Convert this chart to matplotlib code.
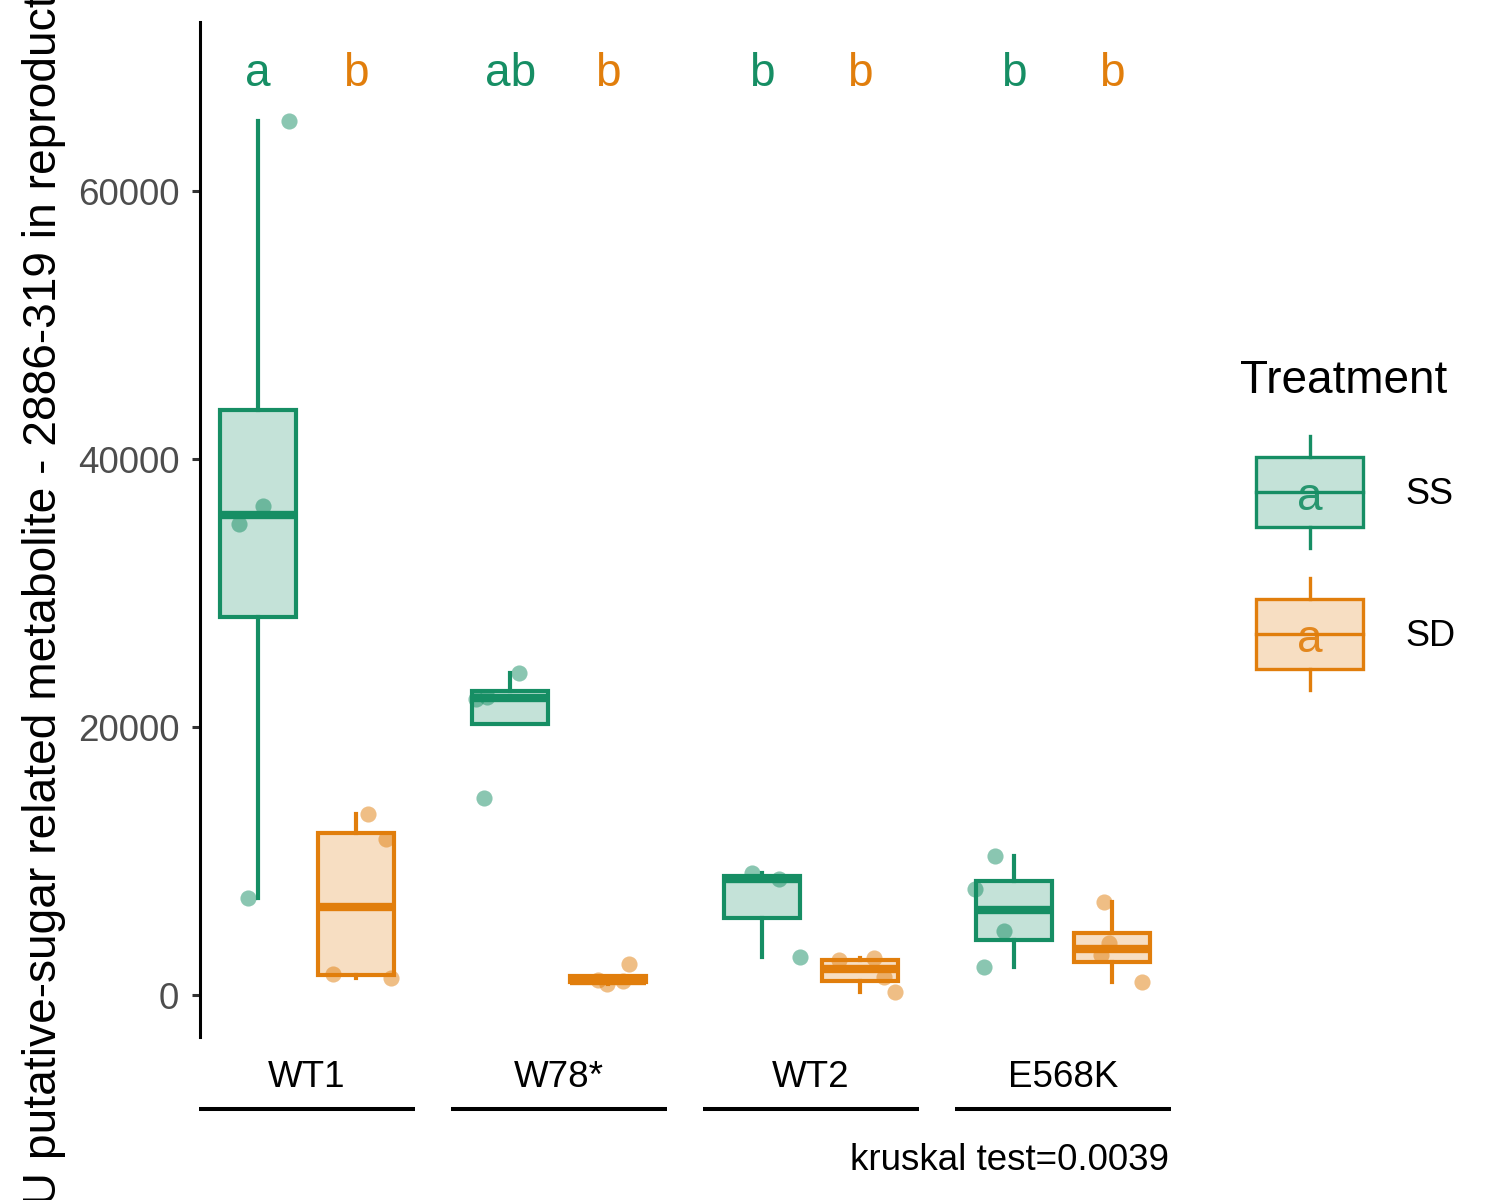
import numpy as np
import matplotlib.pyplot as plt
from matplotlib.colors import to_rgb
from matplotlib.transforms import blended_transform_factory
from matplotlib.patches import Rectangle

plt.rcParams['font.family'] = ['Liberation Sans', 'DejaVu Sans']

# ---- data ----
genotypes = ["WT1", "W78*", "WT2", "E568K"]
treatments = ["SS", "SD"]
colors = {"SS": "#168E64", "SD": "#E17E0C"}

ss_values = [
    [65220, 36490, 35150, 7240],
    [24030, 22240, 22090, 14700],
    [9104, 8657, 2836],
    [10373, 7910, 4776, 2090],
]
sd_values = [
    [13507, 11642, 1567, 1269],
    [2313, 1119, 1045, 821],
    [2761, 2612, 1343, 224],
    [6940, 3880, 2985, 970],
]
# horizontal jitter of each point (fraction of group spacing)
ss_jitter = [
    [0.123, 0.020, -0.075, -0.040],
    [0.036, -0.091, -0.135, -0.103],
    [-0.040, 0.067, 0.151],
    [-0.075, -0.155, -0.040, -0.119],
]
sd_jitter = [
    [0.048, 0.119, -0.091, 0.139],
    [0.083, -0.040, 0.060, -0.004],
    [0.056, -0.083, 0.095, 0.139],
    [-0.032, -0.012, -0.044, 0.119],
]
ss_letters = ["a", "ab", "b", "b"]
sd_letters = ["b", "b", "b", "b"]
letter_y = 67840
y_ticks = [0, 20000, 40000, 60000]
caption = "kruskal test=0.0039"
ylabel = "AU putative-sugar related metabolite - 2886-319 in reproductive tissues"

# ---- layout ----
W, H = 1500, 1200
fig = plt.figure(figsize=(W / 100, H / 100), dpi=100)
ax = fig.add_axes([200 / W, 163 / H, 970 / W, 1015 / H])

dodge = 0.194
box_w = 0.30
series = [("SS", ss_values, ss_jitter, ss_letters, -dodge),
          ("SD", sd_values, sd_jitter, sd_letters, dodge)]

for name, vals, jit, letters, off in series:
    col = colors[name]
    pos = [g + off for g in range(len(genotypes))]
    ax.boxplot(vals, positions=pos, widths=box_w, whis=1.5, showfliers=False,
               showcaps=False, patch_artist=True, manage_ticks=False,
               boxprops=dict(facecolor=(*to_rgb(col), 0.25),
                             edgecolor=col, linewidth=3.0),
               whiskerprops=dict(color=col, linewidth=3.0),
               medianprops=dict(color=col, linewidth=6.0, solid_capstyle='butt'),
               zorder=2)
    for g in range(len(genotypes)):
        xs = [pos[g] + j for j in jit[g]]
        ax.scatter(xs, vals[g], s=135, color=col, alpha=0.5, linewidths=0, zorder=3)
        ax.text(pos[g], letter_y, letters[g], color=col, fontsize=33,
                ha='center', va='baseline')

ax.set_xlim(-0.4246, 3.4246)
ax.set_ylim(-3134, 72612)
ax.set_yticks(y_ticks)
ax.set_yticklabels([str(t) for t in y_ticks])
ax.set_xticks([])
for s in ['top', 'right', 'bottom']:
    ax.spines[s].set_visible(False)
ax.spines['left'].set_linewidth(2.2)
ax.tick_params(axis='y', length=6, width=2.2, color='#333333',
               labelsize=26.5, labelcolor='#4D4D4D', pad=9)

# genotype labels with bars underneath
trans = blended_transform_factory(ax.transData, fig.transFigure)
for g, lab in enumerate(genotypes):
    ax.text(g, 1 - 1087 / H, lab, transform=trans, ha='center', va='baseline',
            fontsize=26.5, color='black')
    ax.plot([g - 0.429, g + 0.429], [1 - 1109 / H] * 2, transform=trans,
            color='black', lw=2.9, clip_on=False, solid_capstyle='butt')

fig.text(1169 / W, 1 - 1170 / H, caption, ha='right', va='baseline', fontsize=26.5)
fig.text(44 / W, 1 - 508 / H, ylabel, rotation=90, ha='center', va='center',
         fontsize=33.2)

# ---- legend ----
lg = fig.add_axes([0, 0, 1, 1], zorder=-1)
lg.set_xlim(0, W)
lg.set_ylim(H, 0)
lg.axis('off')
lg.text(1240, 393, "Treatment", fontsize=33, ha='left', va='baseline')
for name, yc in [("SS", 492), ("SD", 634)]:
    col = colors[name]
    lg.add_patch(Rectangle((1256, yc - 35), 107, 70,
                           facecolor=(*to_rgb(col), 0.25),
                           edgecolor=col, lw=2.4))
    lg.plot([1256, 1363], [yc, yc], color=col, lw=2.4)
    lg.plot([1309.5, 1309.5], [yc - 56, yc - 35], color=col, lw=2.4)
    lg.plot([1309.5, 1309.5], [yc + 35, yc + 56], color=col, lw=2.4)
    lg.text(1309.5, yc + 6, "a", color=col, fontsize=33, ha='center', va='center',
            alpha=0.9)
    lg.text(1405, yc + 2, name, fontsize=26, ha='left', va='center')

fig.savefig("out.png", dpi=100)
